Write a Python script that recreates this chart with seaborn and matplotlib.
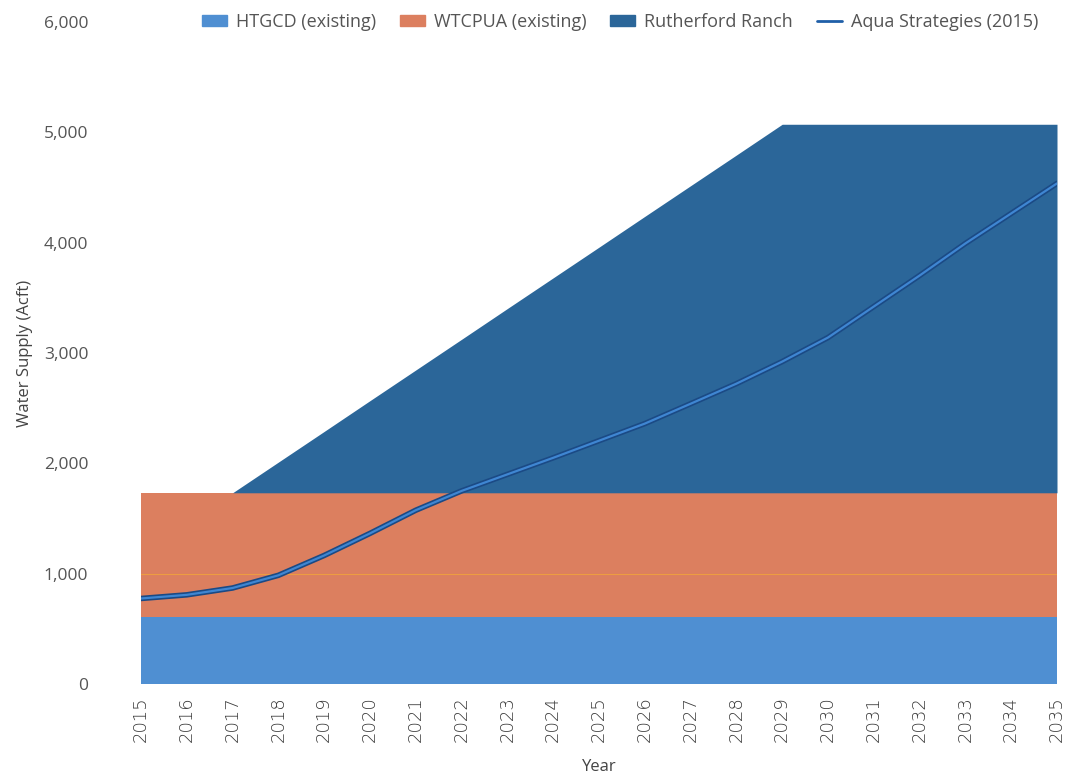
import numpy as np
import pandas as pd
import matplotlib
matplotlib.use("Agg")
import matplotlib.pyplot as plt
from matplotlib.patches import Patch
from matplotlib.lines import Line2D
import seaborn as sns

years = list(range(2015, 2036))
htgcd = [608] * 21
wtcpua = [1125] * 21
rutherford = [0, 0, 0, 278, 556, 835, 1113, 1391, 1670, 1948, 2226, 2505, 2783, 3061, 3340,
              3340, 3340, 3340, 3340, 3340, 3340]
aqua = [775, 808, 870, 985, 1165, 1365, 1575, 1750, 1900, 2050, 2205, 2360, 2540, 2722, 2922,
        3140, 3421, 3702, 3993, 4265, 4537]
yticks = [0, 1000, 2000, 3000, 4000, 5000, 6000]

names = ["HTGCD (existing)", "WTCPUA (existing)", "Rutherford Ranch", "Aqua Strategies (2015)"]
colors = ["#4f8fd2", "#dc7f5f", "#2b6699", "#1f5fa8"]

sns.set_theme(style="white")
plt.rcParams["font.family"] = ["Open Sans", "DejaVu Sans"]

fig = plt.figure(figsize=(10.68, 7.77), dpi=100)
ax = fig.add_axes([0.132, 0.1197, 0.8577, 0.852])

ax.stackplot(years, htgcd, wtcpua, rutherford, colors=colors[:3], linewidth=0)
ax.axhline(1000, color="#f2a43a", lw=0.8, alpha=0.8, zorder=2)

df = pd.DataFrame({"Year": years, "Aqua": aqua})
sns.lineplot(data=df, x="Year", y="Aqua", ax=ax, color="#1b4a85", lw=4, zorder=3)
sns.lineplot(data=df, x="Year", y="Aqua", ax=ax, color="#3f86d2", lw=1.6, zorder=4)

ax.set_xlim(2015, 2035)
ax.set_ylim(0, 6000)
ax.set_xticks(years)
ax.set_xticklabels([str(y) for y in years], rotation=90, fontsize=13, color="#3a3a3a",
                   family=["DejaVu Sans"], fontweight="light")
ax.set_yticks(yticks)
ax.set_yticklabels([f"{v:,}" for v in yticks], fontsize=12.5, color="#555555")
ax.tick_params(axis="y", pad=38, length=0)
ax.tick_params(axis="x", pad=9, length=0)
for s in ax.spines.values():
    s.set_visible(False)
ax.set_xlabel("Year", fontsize=12, color="#444444", labelpad=12)
ax.set_ylabel("Water Supply (Acft)", fontsize=12, color="#444444", labelpad=8)

handles = [Patch(color=colors[0]), Patch(color=colors[1]), Patch(color=colors[2]),
           Line2D([0], [0], color=colors[3], lw=2)]
leg = ax.legend(handles, names, loc="center", bbox_to_anchor=(0.523, 1.0), ncol=4, frameon=False,
                fontsize=13, handlelength=1.4, handleheight=0.6, columnspacing=1.3, handletextpad=0.5)
for t in leg.get_texts():
    t.set_color("#555555")

fig.savefig("out.png", dpi=100)
